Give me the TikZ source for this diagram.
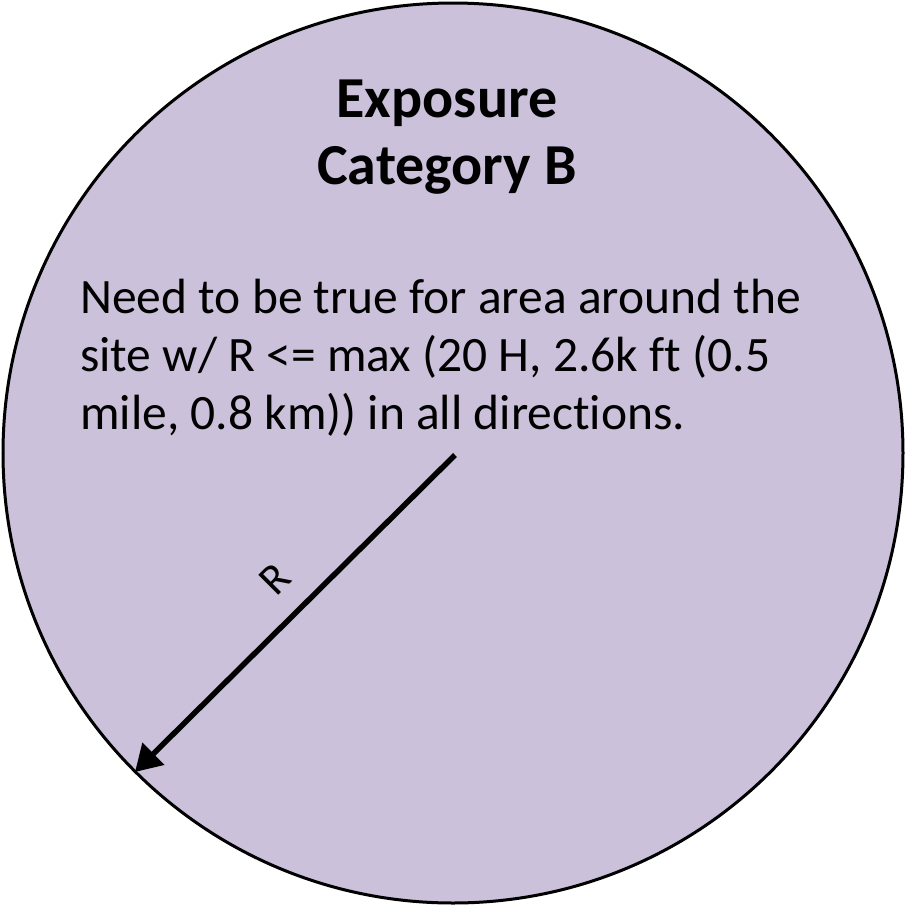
\documentclass[tikz,border=0pt]{standalone}
\usepackage{fontspec}
\setmainfont[Ligatures=NoCommon]{Carlito}
\usetikzlibrary{arrows.meta}
\definecolor{lav}{HTML}{CCC1DA}
\begin{document}
\begin{tikzpicture}[x=1pt,y=-1pt,
  title/.style={font=\bfseries\fontsize{58}{67}\selectfont,align=center,inner sep=0pt},
  body/.style={font=\fontsize{49.5}{58}\selectfont,align=left,anchor=north west,inner sep=0pt},
  radius arrow/.style={line width=5.5pt,-{Triangle[length=26pt,width=30pt]}}]
\useasboundingbox (0,0) rectangle (906,906);
\node[circle,draw=black,line width=3pt,fill=lav,minimum size=900pt,inner sep=0pt] (disc) at (453,453) {};
\node[title] (ttl) at (447,137) {Exposure\\Category B};
\node[body] (txt) at (80,279) {Need to be true for area around the\\site w/ R <= max (20 H, 2.6k ft (0.5\\mile, 0.8 km)) in all directions.};
\coordinate (ctr) at (455,455);
\coordinate (edge) at (135,772);
\draw[radius arrow] (ctr) -- (edge);
\node[rotate=45,font=\fontsize{44}{50}\selectfont,inner sep=0pt] (rl) at (275,579) {R};
\end{tikzpicture}
\end{document}
